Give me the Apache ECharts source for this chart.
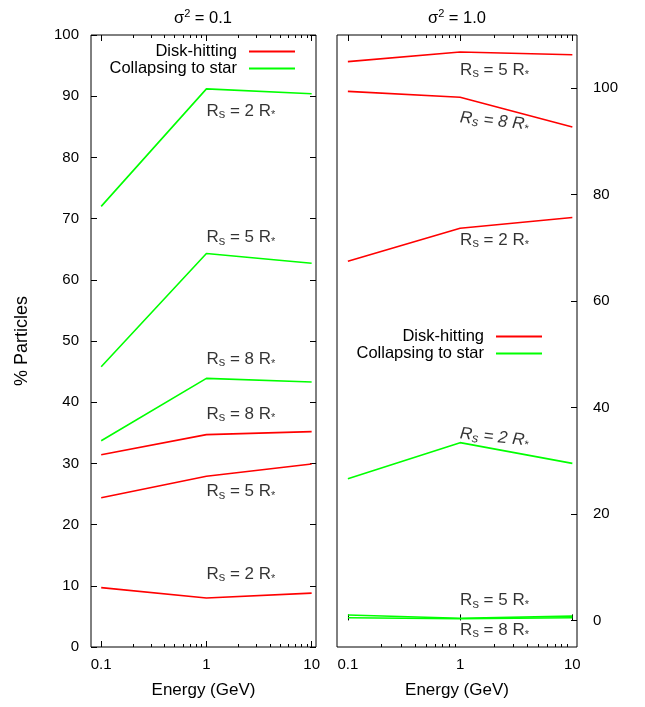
<!DOCTYPE html>
<html>
<head>
<meta charset="utf-8">
<script src="https://cdn.jsdelivr.net/npm/echarts@6/dist/echarts.min.js"></script>
<style>
html,body{margin:0;padding:0;background:#fff;}
#chart{width:645px;height:707px;}
</style>
</head>
<body>
<div id="chart"></div>
<script>
// ---- data ----
const energies = [0.1, 1, 10];
const majorTicks = [0.1, 1, 10];
const minorTicks = [0.2, 0.3, 0.4, 0.5, 0.6, 0.7, 0.8, 0.9, 2, 3, 4, 5, 6, 7, 8, 9];
const rightYTicks = [0, 20, 40, 60, 80, 100];

// sigma^2 = 0.1
const diskS01_R2 = [9.7, 8.0, 8.8];
const diskS01_R5 = [24.4, 27.9, 29.9];
const diskS01_R8 = [31.4, 34.7, 35.2];
const starS01_R2 = [72.0, 91.2, 90.4];
const starS01_R5 = [45.8, 64.3, 62.7];
const starS01_R8 = [33.7, 43.9, 43.3];

// sigma^2 = 1.0
const diskS10_R2 = [67.5, 73.7, 75.7];
const diskS10_R5 = [105.0, 106.8, 106.3];
const diskS10_R8 = [99.4, 98.3, 92.7];
const starS10_R2 = [26.6, 33.4, 29.5];
const starS10_R5 = [1.0, 0.4, 0.8];
const starS10_R8 = [0.5, 0.3, 0.5];

// annotation labels: radius factor and y position (at energy = 1)
const leftLabelR = ['2', '5', '8', '8', '5', '2'];
const leftLabelY = [87.6, 66.9, 47.0, 38.1, 25.4, 11.9];
const rightLabelR = ['5', '8', '2', '2', '5', '8'];
const rightLabelY = [103.4, 94.5, 71.4, 35.1, 3.7, -1.8];
const rightLabelItalic = [false, true, false, true, false, false];

const DISK = 'Disk-hitting';
const STAR = 'Collapsing to star';
const RED = '#ff0000';
const GREEN = '#00ff00';
const FONT = 'Liberation Sans, Arial, Helvetica, sans-serif';
const FS = 15;

const chart = echarts.init(document.getElementById('chart'), null, {renderer: 'canvas'});

function xAxesFor(gridIndex) {
  const base = {
    type: 'log', logBase: 10, min: 0.08, max: 11, gridIndex: gridIndex,
    axisLine: {show: false}, splitLine: {show: false}
  };
  return [
    Object.assign({}, base, {
      position: 'bottom',
      axisTick: {show: true, inside: true, length: 6, customValues: majorTicks, lineStyle: {color: '#000', width: 1}},
      axisLabel: {show: true, customValues: majorTicks, margin: 10, color: '#000', fontSize: FS, fontFamily: FONT,
        formatter: function (v) { return String(v); }},
      name: 'Energy (GeV)', nameLocation: 'middle', nameGap: 35,
      nameTextStyle: {color: '#000', fontSize: 17, fontFamily: FONT}
    }),
    Object.assign({}, base, {
      position: 'bottom',
      axisTick: {show: true, inside: true, length: 3, customValues: minorTicks, lineStyle: {color: '#000', width: 1}},
      axisLabel: {show: false}
    }),
    Object.assign({}, base, {
      position: 'top',
      axisTick: {show: true, inside: true, length: 6, customValues: majorTicks, lineStyle: {color: '#000', width: 1}},
      axisLabel: {show: false}
    }),
    Object.assign({}, base, {
      position: 'top',
      axisTick: {show: true, inside: true, length: 3, customValues: minorTicks, lineStyle: {color: '#000', width: 1}},
      axisLabel: {show: false}
    })
  ];
}

const xAxes = xAxesFor(0).concat(xAxesFor(1));

const yAxes = [
  {
    type: 'value', gridIndex: 0, position: 'left', min: 0, max: 100, interval: 10,
    axisLine: {show: false}, splitLine: {show: false},
    axisTick: {show: true, inside: true, length: 6, lineStyle: {color: '#000'}},
    axisLabel: {color: '#000', fontSize: FS, fontFamily: FONT, margin: 12},
    name: '% Particles', nameLocation: 'middle', nameGap: 60, nameRotate: 90,
    nameTextStyle: {color: '#000', fontSize: 18, fontFamily: FONT}
  },
  {
    type: 'value', gridIndex: 0, position: 'right', min: 0, max: 100, interval: 10,
    axisLine: {show: false}, splitLine: {show: false},
    axisTick: {show: true, inside: true, length: 6, lineStyle: {color: '#000'}},
    axisLabel: {show: false}
  },
  {
    type: 'value', gridIndex: 1, position: 'right', min: -5, max: 110,
    axisLine: {show: false}, splitLine: {show: false},
    axisTick: {show: true, inside: true, length: 6, customValues: rightYTicks, lineStyle: {color: '#000'}},
    axisLabel: {color: '#000', fontSize: FS, fontFamily: FONT, margin: 16, customValues: rightYTicks}
  }
];

function pairs(ys) { return energies.map((e, i) => [e, ys[i]]); }

function lineSeries(name, color, ys, xIdx, yIdx) {
  return {
    type: 'line', name: name, data: pairs(ys), xAxisIndex: xIdx, yAxisIndex: yIdx,
    symbol: 'none', showSymbol: false, silent: true, animation: false,
    lineStyle: {color: color, width: 1.6}, itemStyle: {color: color}
  };
}

const rich = {
  b: {fontSize: 17, fontFamily: FONT, color: '#000', lineHeight: 20},
  s: {fontSize: 13, fontFamily: FONT, color: '#000', lineHeight: 8, verticalAlign: 'bottom'},
  st: {fontSize: 11, fontFamily: FONT, color: '#000', lineHeight: 12, verticalAlign: 'bottom'},
  bi: {fontSize: 17, fontFamily: FONT, color: '#000', lineHeight: 20, fontStyle: 'italic'},
  si: {fontSize: 13, fontFamily: FONT, color: '#000', lineHeight: 8, verticalAlign: 'bottom', fontStyle: 'italic'},
  sti: {fontSize: 11, fontFamily: FONT, color: '#000', lineHeight: 12, verticalAlign: 'bottom', fontStyle: 'italic'}
};

function labelText(r, italic) {
  if (italic) return '{bi|R}{si|s}{bi| = ' + r + ' R}{sti|*}';
  return '{b|R}{s|s}{b| = ' + r + ' R}{st|*}';
}

function labelSeries(rs, ys, italicFlags, xIdx, yIdx) {
  return {
    type: 'scatter', xAxisIndex: xIdx, yAxisIndex: yIdx, symbolSize: 0, silent: true, animation: false,
    data: rs.map((r, i) => {
      const it = italicFlags ? italicFlags[i] : false;
      return {
        value: [1, ys[i]],
        label: {
          show: true, position: 'right', distance: 0,
          formatter: labelText(r, it), rich: rich, color: '#000',
          rotate: it ? -6 : 0
        }
      };
    })
  };
}

const series = [
  lineSeries(DISK, RED, diskS01_R2, 0, 0),
  lineSeries(DISK, RED, diskS01_R5, 0, 0),
  lineSeries(DISK, RED, diskS01_R8, 0, 0),
  lineSeries(STAR, GREEN, starS01_R2, 0, 0),
  lineSeries(STAR, GREEN, starS01_R5, 0, 0),
  lineSeries(STAR, GREEN, starS01_R8, 0, 0),
  lineSeries(DISK, RED, diskS10_R2, 4, 2),
  lineSeries(DISK, RED, diskS10_R5, 4, 2),
  lineSeries(DISK, RED, diskS10_R8, 4, 2),
  lineSeries(STAR, GREEN, starS10_R2, 4, 2),
  lineSeries(STAR, GREEN, starS10_R5, 4, 2),
  lineSeries(STAR, GREEN, starS10_R8, 4, 2),
  labelSeries(leftLabelR, leftLabelY, null, 0, 0),
  labelSeries(rightLabelR, rightLabelY, rightLabelItalic, 4, 2)
];

const legendCommon = {
  data: [DISK, STAR], orient: 'vertical', align: 'right', padding: 0,
  icon: 'rect', itemWidth: 46, itemHeight: 2, itemGap: 0, selectedMode: false,
  textStyle: {color: '#000', fontSize: 16.5, fontFamily: FONT, lineHeight: 17, padding: [0, 7, 0, 0]}
};

const titleRich = {
  b: {fontSize: 16.5, fontFamily: FONT, color: '#000', lineHeight: 20, fontWeight: 'normal'},
  sup: {fontSize: 11, fontFamily: FONT, color: '#000', lineHeight: 10, verticalAlign: 'top', fontWeight: 'normal'}
};

chart.setOption({
  animation: false,
  backgroundColor: '#fff',
  title: [
    {text: '{b|σ}{sup|2}{b| = 0.1}', left: 198, top: 3, textAlign: 'center', textStyle: {fontWeight: 'normal', rich: titleRich}},
    {text: '{b|σ}{sup|2}{b| = 1.0}', left: 452, top: 3, textAlign: 'center', textStyle: {fontWeight: 'normal', rich: titleRich}}
  ],
  legend: [
    Object.assign({}, legendCommon, {right: 350, top: 43}),
    Object.assign({}, legendCommon, {right: 103, top: 328})
  ],
  grid: [
    {left: 91, top: 35, width: 225, height: 612, show: true, borderColor: '#000', borderWidth: 1, backgroundColor: 'transparent'},
    {left: 337, top: 35, width: 240, height: 612, show: true, borderColor: '#000', borderWidth: 1, backgroundColor: 'transparent'}
  ],
  xAxis: xAxes,
  yAxis: yAxes,
  series: series
});
</script>
</body>
</html>
